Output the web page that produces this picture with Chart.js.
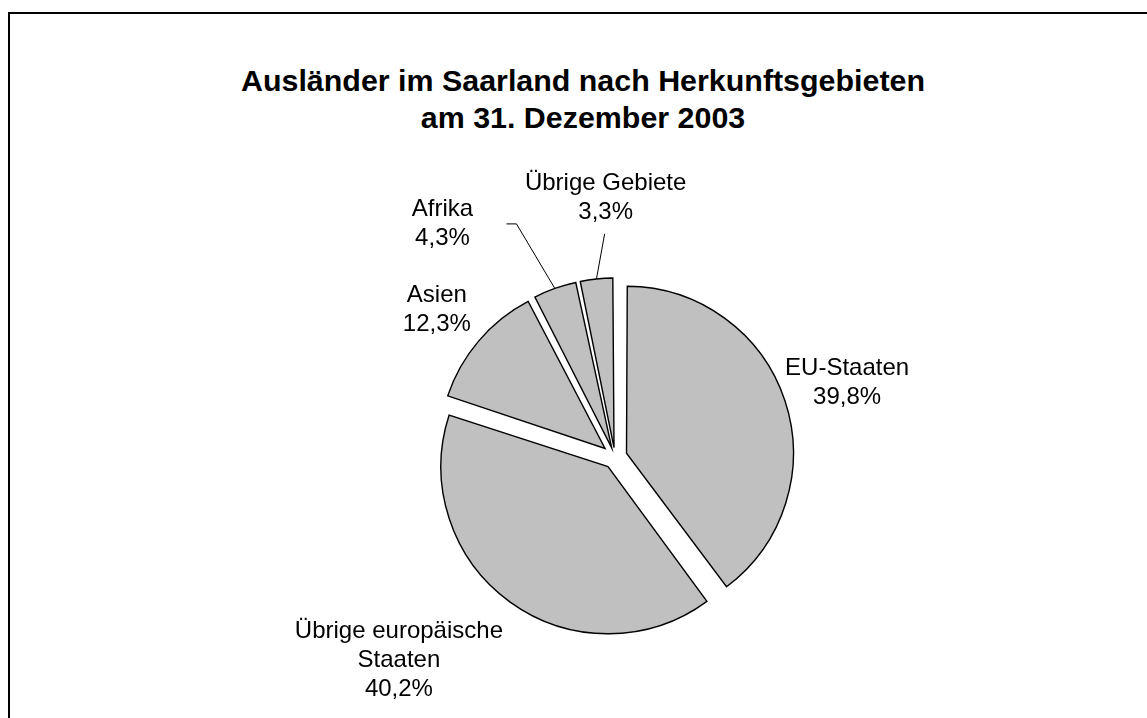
<!DOCTYPE html>
<html><head><meta charset="utf-8">
<script src="https://cdn.jsdelivr.net/npm/chart.js@4"></script>
<style>
html,body{margin:0;padding:0;background:#fff;overflow:hidden;width:1147px;height:718px;}
#frame{position:absolute;left:8px;top:12px;width:1300px;height:900px;border-left:2px solid #000;border-top:2px solid #000;}
#title{position:absolute;left:0;width:1166px;top:62px;text-align:center;font:bold 30.4px "Liberation Sans",Arial,sans-serif;line-height:37px;color:#000;}
#wrap{position:absolute;left:0;top:0;width:1147px;height:718px;}
</style></head><body>
<div id="frame"></div>
<div id="title">Ausländer im Saarland nach Herkunftsgebieten<br>am 31. Dezember 2003</div>
<div id="wrap"><canvas id="c" width="1147" height="718"></canvas></div>
<script>
// ---- data ----
const categories = ['EU-Staaten', 'Übrige europäische Staaten', 'Asien', 'Afrika', 'Übrige Gebiete'];
const labelLines = [['EU-Staaten'], ['Übrige europäische', 'Staaten'], ['Asien'], ['Afrika'], ['Übrige Gebiete']];
const shares = [39.8, 40.2, 12.3, 4.3, 3.3];

// ---- style ----
const EXPLODE = 17;      // px each slice is pulled out
const RADIUS = 162;
const FONT = '24px "Liberation Sans", Arial, sans-serif';
const LINE_H = 29;
// label placement relative to each (exploded) slice: radial multiple and angle delta (deg)
const placement = [
  {dr: 1.40, da: 0.5},
  {dr: 1.727, da: 11.6},
  {dr: 1.321, da: -1.0},
  {dr: 1.690, da: -17.9, leader: {type: 'elbow', sx: 64, ex: 74}},
  {dr: 1.496, da: 4.15, leader: {type: 'down', sx: -1, sy: 36}}
];

const total = shares.reduce((a, b) => a + b, 0);
function fixFactor(circ) { return 1 - Math.sin(Math.min(Math.PI, circ)); }

const labelPlugin = {
  id: 'pieLabels',
  afterDatasetsDraw(chart) {
    const ctx = chart.ctx;
    const meta = chart.getDatasetMeta(0);
    ctx.save();
    ctx.font = FONT;
    ctx.fillStyle = '#000';
    ctx.strokeStyle = '#000';
    ctx.lineWidth = 1;
    ctx.textAlign = 'center';
    ctx.textBaseline = 'middle';
    meta.data.forEach((arc, i) => {
      const p = arc.getProps(['x', 'y', 'startAngle', 'endAngle', 'outerRadius'], true);
      const mid = (p.startAngle + p.endAngle) / 2;
      const circ = p.endAngle - p.startAngle;
      const off = (arc.options.offset || 0) / 4;
      const shift = off * (1 + fixFactor(circ));
      const cx = p.x + Math.cos(mid) * shift;
      const cy = p.y + Math.sin(mid) * shift;
      const pl = placement[i];
      const a = mid + pl.da * Math.PI / 180;
      const lx = cx + Math.cos(a) * p.outerRadius * pl.dr;
      const ly = cy + Math.sin(a) * p.outerRadius * pl.dr;
      const lines = labelLines[i].concat([shares[i].toFixed(1).replace('.', ',') + '%']);
      const y0 = ly - (lines.length - 1) * LINE_H / 2;
      lines.forEach((t, k) => ctx.fillText(t, lx, y0 + k * LINE_H));
      if (pl.leader) {
        const ex = cx + Math.cos(mid) * p.outerRadius;
        const ey = cy + Math.sin(mid) * p.outerRadius;
        ctx.beginPath();
        if (pl.leader.type === 'elbow') {
          ctx.moveTo(lx + pl.leader.sx, ly);
          ctx.lineTo(lx + pl.leader.ex, ly);
        } else {
          ctx.moveTo(lx + pl.leader.sx, ly + pl.leader.sy);
        }
        ctx.lineTo(ex, ey);
        ctx.stroke();
      }
    });
    ctx.restore();
  }
};

new Chart(document.getElementById('c'), {
  type: 'pie',
  data: {
    labels: categories,
    datasets: [{
      data: shares,
      backgroundColor: '#c0c0c0',
      borderColor: '#000',
      borderWidth: 1.4,
      borderJoinStyle: 'miter',
      clip: false,
      offset: (c) => {
        const circ = (shares[c.dataIndex] / total) * Math.PI * 2;
        return 4 * EXPLODE / (1 + fixFactor(circ));
      }
    }]
  },
  options: {
    responsive: false,
    animation: false,
    events: [],
    radius: RADIUS,
    layout: {padding: {left: 200, right: 117, top: 270, bottom: 74}},
    plugins: {legend: {display: false}, tooltip: {enabled: false}, title: {display: false}}
  },
  plugins: [labelPlugin]
});
</script>
</body></html>
